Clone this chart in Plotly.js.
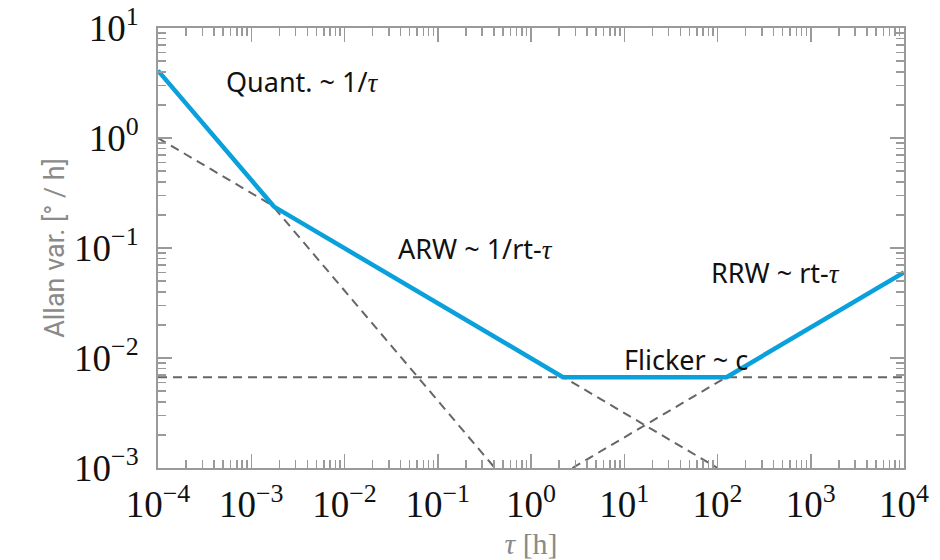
<!DOCTYPE html>
<html>
<head>
<meta charset="utf-8">
<script src="https://cdn.plot.ly/plotly-3.0.1.min.js"></script>
<style>html,body{margin:0;padding:0;background:#fff;}#chart{width:940px;height:560px;}</style>
</head>
<body>
<div id="chart"></div>
<script>
// Total Allan curve (vertices)
const tauTotal = [1e-4, 1.75e-3, 2.2, 125, 1e4];
const allanTotal = [4.1, 0.238, 0.0067, 0.0067, 0.06];

// Component asymptotes (dashed)
const tauQuant = [1e-4, 0.41];
const allanQuant = [4.1, 1e-3];
const tauARW = [1e-4, 100];
const allanARW = [1.0, 1e-3];
const tauFlicker = [1e-4, 1e4];
const allanFlicker = [0.0067, 0.0067];
const tauRRW = [2.78, 1e4];
const allanRRW = [1e-3, 0.06];

// Tick labels
const xTickVals = [1e-4, 1e-3, 1e-2, 1e-1, 1e0, 1e1, 1e2, 1e3, 1e4];
const xTickText = ['10<sup>−4</sup>', '10<sup>−3</sup>', '10<sup>−2</sup>', '10<sup>−1</sup>', '10<sup>0</sup>', '10<sup>1</sup>', '10<sup>2</sup>', '10<sup>3</sup>', '10<sup>4</sup>'];
const yTickVals = [1e-3, 1e-2, 1e-1, 1e0, 1e1];
const yTickText = ['10<sup>−3</sup>', '10<sup>−2</sup>', '10<sup>−1</sup>', '10<sup>0</sup>', '10<sup>1</sup>'];

const labelTexts = ['Quant. ~ 1/', 'ARW ~ 1/rt-', 'RRW ~ rt-', 'Flicker ~ c'];
const labelTau = [true, true, true, false];

const dashStyle = {color: '#666666', width: 2, dash: '9px,6px'};
const traces = [
  {x: tauQuant, y: allanQuant, mode: 'lines', line: dashStyle, hoverinfo: 'skip'},
  {x: tauARW, y: allanARW, mode: 'lines', line: dashStyle, hoverinfo: 'skip'},
  {x: tauFlicker, y: allanFlicker, mode: 'lines', line: dashStyle, hoverinfo: 'skip'},
  {x: tauRRW, y: allanRRW, mode: 'lines', line: dashStyle, hoverinfo: 'skip'},
  {x: tauTotal, y: allanTotal, mode: 'lines', line: {color: '#0aa0dc', width: 4.5}, hoverinfo: 'skip'}
];

const labelPos = [[-2.45, 0.51], [-0.6, -1.0], [2.62, -1.226], [1.66, -2.014]];
const tauHtml = '<span style="font-family:\'Liberation Serif\',serif;font-style:italic">τ</span>';
const annotations = labelTexts.map((t, i) => ({
  x: labelPos[i][0], y: labelPos[i][1], xref: 'x', yref: 'y',
  text: t + (labelTau[i] ? tauHtml : ''), showarrow: false,
  font: {family: "'Noto Sans', sans-serif", size: 27, color: '#111'}
}));

const axisCommon = {
  type: 'log', tickmode: 'array', showgrid: false, zeroline: false,
  showline: true, linecolor: '#9a9a9a', linewidth: 2, mirror: 'allticks',
  ticks: 'inside', ticklen: 14, tickwidth: 1.5, tickcolor: '#9a9a9a',
  minor: {ticks: 'inside', ticklen: 8, tickwidth: 1.5, tickcolor: '#9a9a9a', dtick: 'D1', showgrid: false},
  tickfont: {family: "'Liberation Serif', serif", size: 37, color: '#111'},
  ticklabeloverflow: 'allow'
};

const layout = {
  width: 940, height: 560,
  margin: {l: 158, r: 36, t: 28, b: 92},
  paper_bgcolor: '#fff', plot_bgcolor: '#fff',
  showlegend: false,
  xaxis: Object.assign({}, axisCommon, {
    range: [-4, 4], tickvals: xTickVals, ticktext: xTickText, ticklabelstandoff: 3,
    title: {text: '<i>τ</i> [h]', font: {family: "'Liberation Serif', serif", size: 30, color: '#8a8a8a'}, standoff: 10}
  }),
  yaxis: Object.assign({}, axisCommon, {
    range: [-3, 1], tickvals: yTickVals, ticktext: yTickText, ticklabelstandoff: 10,
    title: {text: 'Allan var. [° / h]', font: {family: "Roboto, 'Liberation Sans', sans-serif", size: 27, color: '#8a8a8a'}, standoff: 2}
  }),
  annotations: annotations
};

Plotly.newPlot('chart', traces, layout, {staticPlot: true, displayModeBar: false});
</script>
</body>
</html>
